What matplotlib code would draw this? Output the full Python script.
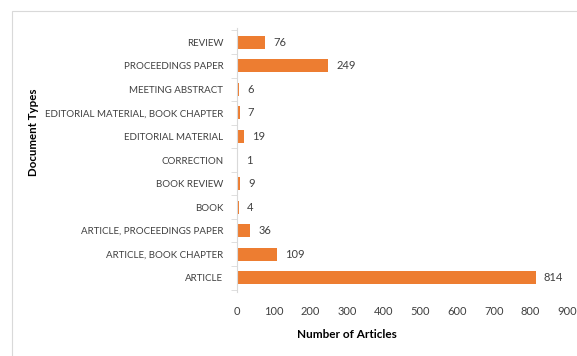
import matplotlib.pyplot as plt
from matplotlib.patches import Rectangle

plt.rcParams['font.family'] = ['Lato', 'DejaVu Sans']

doc_types = ["ARTICLE", "ARTICLE, BOOK CHAPTER", "ARTICLE, PROCEEDINGS PAPER",
             "BOOK", "BOOK REVIEW", "CORRECTION", "EDITORIAL MATERIAL",
             "EDITORIAL MATERIAL, BOOK CHAPTER", "MEETING ABSTRACT",
             "PROCEEDINGS PAPER", "REVIEW"]
counts = [814, 109, 36, 4, 9, 1, 19, 7, 6, 249, 76]

bar_color = "#ED7D31"
text_color = "#404040"

fig = plt.figure(figsize=(5.77, 3.56), dpi=100)
ax = fig.add_axes([0.411, 0.180, 0.572, 0.741])

# outer chart frame
fig.patches.append(Rectangle((12 / 577, -0.01), 1.0, 1 - 11 / 356 + 0.01,
                             transform=fig.transFigure, fill=False,
                             edgecolor="#d9d9d9", linewidth=0.8))

bars = ax.barh(doc_types, counts, height=0.55, color=bar_color)
for b, v in zip(bars, counts):
    ax.text(b.get_width() + 22, b.get_y() + b.get_height() / 2, str(v),
            va="center", ha="left", fontsize=8, color=text_color)

ax.set_xlim(0, 900)
ax.set_xticks(range(0, 1000, 100))
ax.set_ylim(-0.6, len(doc_types) - 0.4)

for s in ["top", "right", "bottom"]:
    ax.spines[s].set_visible(False)
ax.spines["left"].set_color("#d9d9d9")
ax.tick_params(axis="x", length=0, labelsize=8, colors=text_color, pad=10)
ax.tick_params(axis="y", length=0, labelsize=7, colors=text_color, pad=10)
ax.set_yticks([i - 0.5 for i in range(len(doc_types) + 1)], minor=True)
ax.tick_params(axis="y", which="minor", length=4, color="#d9d9d9")

ax.set_xlabel("Number of Articles", fontsize=8.5, fontweight="bold", color="black")
ax.xaxis.set_label_coords(0.333, -0.14)
ax.set_ylabel("Document Types", fontsize=8.3, fontweight="bold", color="black")
ax.yaxis.set_label_coords(-0.6, 0.606)

fig.savefig("out.png", dpi=100)
